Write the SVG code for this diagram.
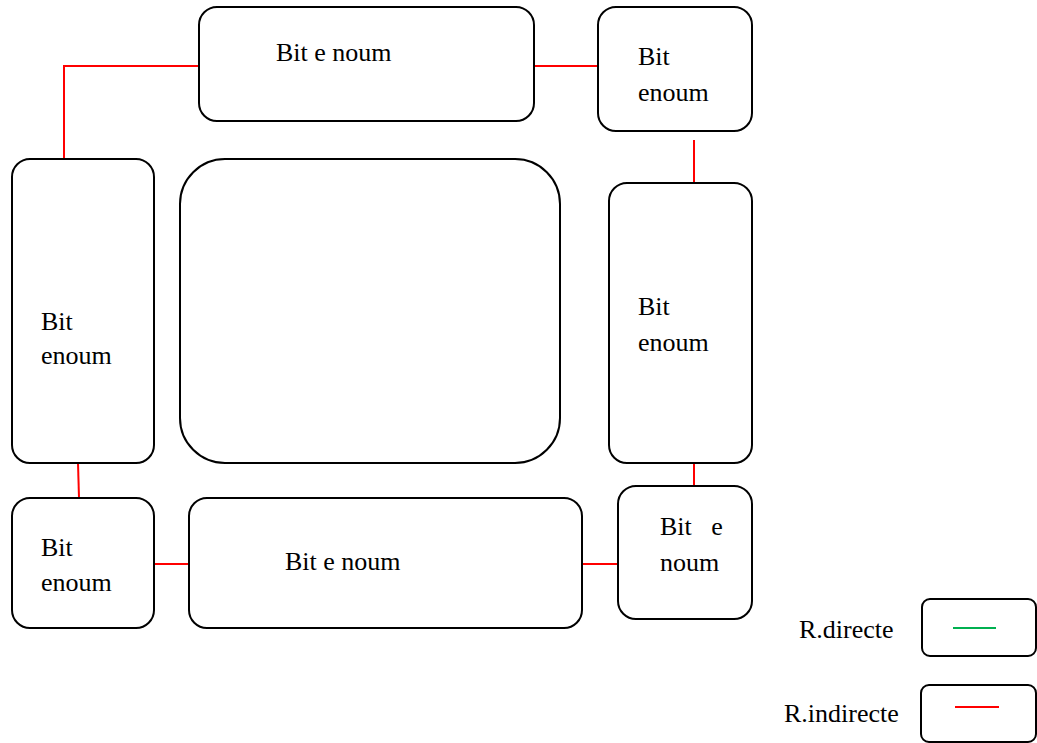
<svg xmlns="http://www.w3.org/2000/svg" width="1037" height="743" viewBox="0 0 1037 743">
  <style>
    .box { fill: #ffffff; stroke: #000000; stroke-width: 2; }
    .lbl { font-family: "Liberation Serif", "Times New Roman", serif; font-size: 26px; fill: #000000; }
    .link { stroke: #ff0000; stroke-width: 2; fill: none; }
    .direct { stroke: #00b050; stroke-width: 2; fill: none; }
  </style>
  <rect width="1037" height="743" fill="#ffffff"/>

  <g id="connectors">
    <polyline class="link" points="199,66 64,66 64,159"/>
    <line class="link" x1="534" y1="66" x2="598" y2="66"/>
    <line class="link" x1="694" y1="140" x2="694" y2="183"/>
    <line class="link" x1="78" y1="463" x2="79" y2="498"/>
    <line class="link" x1="154" y1="564" x2="189" y2="564"/>
    <line class="link" x1="582" y1="564" x2="618" y2="564"/>
    <line class="link" x1="694" y1="463" x2="694" y2="486"/>
  </g>

  <g id="node-top">
    <rect class="box" x="199" y="7" width="335" height="114" rx="18"/>
    <text class="lbl" x="276" y="61">Bit e noum</text>
  </g>
  <g id="node-top-right">
    <rect class="box" x="598" y="7" width="154" height="124" rx="18"/>
    <text class="lbl" x="638" y="65">Bit</text>
    <text class="lbl" x="638" y="101">enoum</text>
  </g>
  <g id="node-left">
    <rect class="box" x="12" y="159" width="142" height="304" rx="18"/>
    <text class="lbl" x="41" y="330">Bit</text>
    <text class="lbl" x="41" y="364">enoum</text>
  </g>
  <g id="node-center">
    <rect class="box" x="180" y="159" width="380" height="304" rx="45"/>
  </g>
  <g id="node-right">
    <rect class="box" x="609" y="183" width="143" height="280" rx="18"/>
    <text class="lbl" x="638" y="315">Bit</text>
    <text class="lbl" x="638" y="351">enoum</text>
  </g>
  <g id="node-bottom-left">
    <rect class="box" x="12" y="498" width="142" height="130" rx="18"/>
    <text class="lbl" x="41" y="556">Bit</text>
    <text class="lbl" x="41" y="591">enoum</text>
  </g>
  <g id="node-bottom">
    <rect class="box" x="189" y="498" width="393" height="130" rx="18"/>
    <text class="lbl" x="285" y="570">Bit e noum</text>
  </g>
  <g id="node-bottom-right">
    <rect class="box" x="618" y="486" width="134" height="133" rx="18"/>
    <text class="lbl" x="660" y="535" xml:space="preserve">Bit   e</text>
    <text class="lbl" x="660" y="571">noum</text>
  </g>

  <g id="legend-direct">
    <text class="lbl" x="799" y="638">R.directe</text>
    <rect class="box" x="922" y="599" width="114" height="57" rx="8"/>
    <line class="direct" x1="953" y1="628" x2="996" y2="628"/>
  </g>
  <g id="legend-indirect">
    <text class="lbl" x="784" y="722">R.indirecte</text>
    <rect class="box" x="921" y="685" width="115" height="57" rx="8"/>
    <line class="link" x1="955" y1="707" x2="999" y2="707"/>
  </g>
</svg>
